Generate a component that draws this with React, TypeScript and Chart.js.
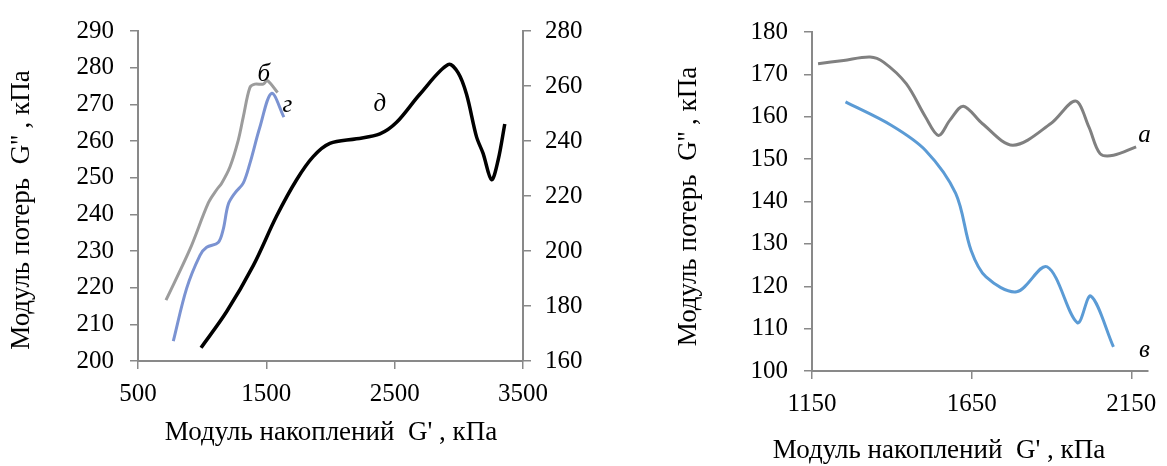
import React, { useEffect, useRef } from "react";
import { Chart, registerables } from "chart.js";

Chart.register(...registerables);

const FONT = "'Liberation Serif', 'Times New Roman', serif";
const AXIS_COLOR = "#898989";

// ---------- Left panel data ----------
const LEFT_X_TICKS = [500, 1500, 2500, 3500];
const LEFT_Y_TICKS = [200, 210, 220, 230, 240, 250, 260, 270, 280, 290];
const LEFT_Y2_TICKS = [160, 180, 200, 220, 240, 260, 280];

// curve б (left axis)
const B_X = [718, 905, 1048, 1113, 1152, 1217, 1281, 1320, 1372, 1411, 1476, 1507, 1588];
const B_Y = [216.6, 230.5, 243.1, 246.7, 248.5, 253.0, 260.2, 266.5, 274.6, 275.5, 275.5, 276.5, 273.2];

// curve г (left axis)
const G_X = [775, 879, 983, 1035, 1125, 1164, 1203, 1255, 1320, 1372, 1450, 1541, 1637];
const G_Y = [205.4, 219.8, 228.8, 231.0, 232.3, 235.9, 242.7, 245.8, 248.5, 253.9, 263.8, 273.0, 266.5];

// curve д (right axis)
const D_X = [991, 1191, 1398, 1580, 1736, 1865, 1995, 2203, 2385, 2515, 2696, 2917, 2995, 3060, 3138, 3189, 3255, 3306, 3358];
const D_Y = [164.8, 178.0, 194.7, 212.7, 225.9, 234.3, 239.1, 240.8, 242.6, 246.8, 257.0, 267.8, 264.8, 257.0, 241.5, 235.5, 225.9, 233.0, 246.2];

// ---------- Right panel data ----------
const RIGHT_X_TICKS = [1150, 1650, 2150];
const RIGHT_Y_TICKS = [100, 110, 120, 130, 140, 150, 160, 170, 180];

// curve а
const A_X = [1169, 1249, 1332, 1374, 1445, 1505, 1546, 1582, 1624, 1683, 1779, 1898, 1975, 2017, 2052, 2094, 2165];
const A_Y = [172.5, 173.3, 174.1, 172.9, 167.8, 160.0, 155.6, 159.2, 162.5, 158.4, 153.3, 158.4, 163.7, 157.6, 151.3, 150.9, 152.9];

// curve в
const V_X = [1255, 1398, 1505, 1600, 1648, 1695, 1791, 1886, 1981, 2023, 2094];
const V_Y = [163.5, 158.0, 152.1, 141.9, 128.5, 122.2, 118.7, 124.6, 111.4, 117.7, 105.7];

const TITLE_Y = "Модуль потерь  G'' , кПа";
const TITLE_X = "Модуль накоплений  G' , кПа";

const zip = (xs: number[], ys: number[]) => xs.map((x, i) => ({ x, y: ys[i] }));

const textPlugin = {
  id: "texts",
  afterDraw(chart: any, _args: any, opts: any) {
    const ctx = chart.ctx;
    const items = (opts && opts.items) || [];
    for (const t of items) {
      ctx.save();
      ctx.fillStyle = "#000";
      ctx.font = `${t.italic ? "italic " : ""}${t.size || 25}px ${FONT}`;
      ctx.textAlign = "center";
      ctx.textBaseline = "middle";
      let px = t.px;
      let py = t.py;
      if (t.axisY) {
        px = chart.scales.x.getPixelForValue(t.x);
        py = chart.scales[t.axisY].getPixelForValue(t.y);
      }
      ctx.translate(px, py);
      if (t.rotate) ctx.rotate(t.rotate);
      ctx.fillText(t.text, 0, 0);
      ctx.restore();
    }
  },
};

const tickFont = { family: FONT, size: 25 };
const TENSION = 0.33;

function fixedTicks(values: number[]) {
  return (scale: any) => {
    scale.ticks = values.map((v) => ({ value: v }));
  };
}

function axisCommon(extra: any) {
  return {
    type: "linear",
    ticks: {
      font: tickFont,
      color: "#000",
      autoSkip: false,
      maxRotation: 0,
      callback: (v: any) => String(v),
      ...(extra.ticks || {}),
    },
    grid: {
      drawOnChartArea: false,
      drawTicks: true,
      tickLength: 8,
      color: AXIS_COLOR,
      lineWidth: 1.5,
    },
    border: { display: true, color: AXIS_COLOR, width: 2 },
    ...extra.rest,
  };
}

function useChart(ref: React.RefObject<HTMLCanvasElement>, makeConfig: () => any) {
  useEffect(() => {
    if (!ref.current) return;
    const chart = new Chart(ref.current, makeConfig());
    return () => chart.destroy();
  }, []);
}

export default function App() {
  const leftRef = useRef<HTMLCanvasElement>(null);
  const rightRef = useRef<HTMLCanvasElement>(null);

  useChart(leftRef, () => ({
    type: "scatter",
    data: {
      datasets: [
        { label: "б", data: zip(B_X, B_Y), yAxisID: "y", showLine: true, borderColor: "#9c9c9c", borderWidth: 3, pointRadius: 0, tension: TENSION },
        { label: "г", data: zip(G_X, G_Y), yAxisID: "y", showLine: true, borderColor: "#7b93d2", borderWidth: 3, pointRadius: 0, tension: TENSION },
        { label: "д", data: zip(D_X, D_Y), yAxisID: "y2", showLine: true, borderColor: "#000000", borderWidth: 3.5, pointRadius: 0, tension: TENSION },
      ],
    },
    options: {
      responsive: false,
      animation: false,
      devicePixelRatio: 1,
      layout: { padding: { top: 26, left: 0, right: 0, bottom: 0 } },
      plugins: {
        legend: { display: false },
        tooltip: { enabled: false },
        texts: {
          items: [
            { text: "б", x: 1481, y: 278.2, axisY: "y", italic: true },
            { text: "г", x: 1664, y: 269.8, axisY: "y", italic: true },
            { text: "д", x: 2385, y: 253.4, axisY: "y2", italic: true },
            { text: TITLE_Y, px: 22, py: 210, rotate: -Math.PI / 2, size: 27 },
            { text: TITLE_X, px: 331, py: 433, size: 27 },
          ],
        },
      },
      scales: {
        x: axisCommon({
          ticks: { padding: 10 },
          rest: {
            position: "bottom",
            min: 500,
            max: 3500,
            afterBuildTicks: fixedTicks(LEFT_X_TICKS),
            afterFit: (s: any) => { s.height = 105; },
          },
        }),
        y: axisCommon({
          ticks: { padding: 16 },
          rest: {
            position: "left",
            min: 200,
            max: 290,
            afterBuildTicks: fixedTicks(LEFT_Y_TICKS),
            afterFit: (s: any) => { s.width = 138; },
          },
        }),
        y2: axisCommon({
          ticks: { padding: 14 },
          rest: {
            position: "right",
            min: 160,
            max: 280,
            afterBuildTicks: fixedTicks(LEFT_Y2_TICKS),
            afterFit: (s: any) => { s.width = 117; },
          },
        }),
      },
    },
    plugins: [textPlugin],
  }));

  useChart(rightRef, () => ({
    type: "scatter",
    data: {
      datasets: [
        { label: "а", data: zip(A_X, A_Y), showLine: true, borderColor: "#808080", borderWidth: 3, pointRadius: 0, tension: TENSION },
        { label: "в", data: zip(V_X, V_Y), showLine: true, borderColor: "#5b9bd5", borderWidth: 3, pointRadius: 0, tension: TENSION },
      ],
    },
    options: {
      responsive: false,
      animation: false,
      devicePixelRatio: 1,
      layout: { padding: { top: 32, left: 0, right: 14, bottom: 0 } },
      plugins: {
        legend: { display: false },
        tooltip: { enabled: false },
        texts: {
          items: [
            { text: "а", x: 2191, y: 155.6, axisY: "y", italic: true },
            { text: "в", x: 2191, y: 104.9, axisY: "y", italic: true },
            { text: TITLE_Y, px: 49, py: 206.5, rotate: -Math.PI / 2, size: 27 },
            { text: TITLE_X, px: 299, py: 451, size: 27 },
          ],
        },
      },
      scales: {
        x: axisCommon({
          ticks: { padding: 10 },
          rest: {
            position: "bottom",
            min: 1150,
            max: 2200,
            afterBuildTicks: fixedTicks(RIGHT_X_TICKS),
            afterFit: (s: any) => { s.height = 95; },
          },
        }),
        y: axisCommon({
          ticks: { padding: 16 },
          rest: {
            position: "left",
            min: 100,
            max: 180,
            afterBuildTicks: fixedTicks(RIGHT_Y_TICKS),
            afterFit: (s: any) => { s.width = 172; },
          },
        }),
      },
    },
    plugins: [textPlugin],
  }));

  return (
    <div style={{ position: "fixed", left: 0, top: 0, width: 1167, height: 466, background: "#fff" }}>
      <canvas ref={leftRef} width={640} height={466} style={{ position: "absolute", left: 0, top: 0, width: 640, height: 466 }} />
      <canvas ref={rightRef} width={527} height={466} style={{ position: "absolute", left: 640, top: 0, width: 527, height: 466 }} />
    </div>
  );
}
